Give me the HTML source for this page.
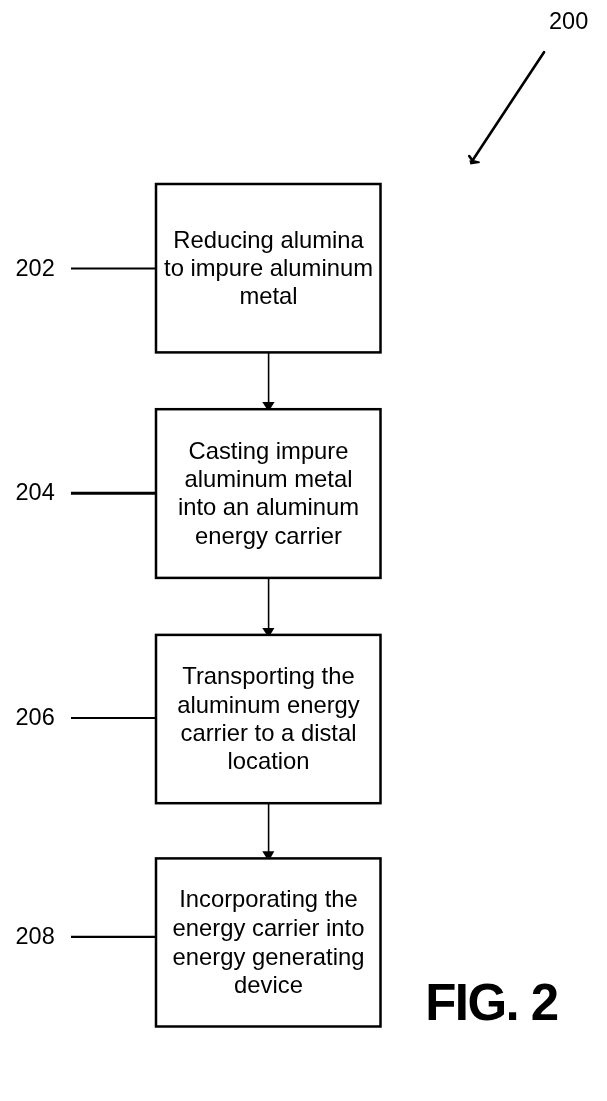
<!DOCTYPE html>
<html>
<head>
<meta charset="utf-8">
<style>
html,body{margin:0;padding:0;background:#fff;}
body{width:607px;height:1101px;overflow:hidden;}
svg{display:block;will-change:transform;}
text{font-family:"Liberation Sans",sans-serif;fill:#000;}
.t{font-size:23.8px;text-anchor:middle;}
.n{font-size:23.5px;}
.fig{font-size:51px;font-weight:bold;letter-spacing:-1.6px;}
</style>
</head>
<body>
<svg width="607" height="1101" viewBox="0 0 607 1101">
<rect x="0" y="0" width="607" height="1101" fill="#fff"/>
<g fill="none" stroke="#000">
  <rect x="156" y="184" width="224.5" height="168.4" stroke-width="2.5"/>
  <rect x="156" y="409.2" width="224.5" height="168.7" stroke-width="2.5"/>
  <rect x="156" y="634.9" width="224.5" height="168.3" stroke-width="2.5"/>
  <rect x="156" y="858.4" width="224.5" height="168.1" stroke-width="2.5"/>
  <line x1="268.6" y1="353" x2="268.6" y2="403" stroke-width="1.6"/>
  <line x1="268.6" y1="578" x2="268.6" y2="628" stroke-width="1.6"/>
  <line x1="268.6" y1="804" x2="268.6" y2="852" stroke-width="1.6"/>
  <line x1="71" y1="268.5" x2="156" y2="268.5" stroke-width="2.2"/>
  <line x1="71" y1="493.3" x2="156" y2="493.3" stroke-width="3"/>
  <line x1="71" y1="718" x2="156" y2="718" stroke-width="2.2"/>
  <line x1="71" y1="936.9" x2="156" y2="936.9" stroke-width="2.2"/>
  <line x1="544" y1="52.2" x2="471.5" y2="162" stroke-width="2.6" stroke-linecap="round"/>
</g>
<g fill="#000">
  <polygon points="262.2,402 274.6,402 270.8,408 266.2,408"/>
  <polygon points="262.2,628 274.4,628 270.8,634 266.2,634"/>
  <polygon points="262.3,851.3 274.3,851.3 270.8,857.5 266.2,857.5"/>
  <path d="M469.2,156 L472.6,160.8" fill="none" stroke="#000" stroke-width="2.6" stroke-linecap="round"/><polygon points="469.4,160.2 470.4,164.5 479.9,162.9 479.6,161.6 474.6,160.2 471.8,160.6"/>
</g>
<text class="n" x="15.5" y="275.7">202</text>
<text class="n" x="15.5" y="500.2">204</text>
<text class="n" x="15.5" y="725.2">206</text>
<text class="n" x="15.5" y="943.8">208</text>
<text class="n" x="549" y="28.5">200</text>

<text class="t" x="268.5" y="247.5">Reducing alumina</text>
<text class="t" x="268.5" y="276.1">to impure aluminum</text>
<text class="t" x="268.5" y="304.2">metal</text>

<text class="t" x="268.5" y="458.5">Casting impure</text>
<text class="t" x="268.5" y="487.2">aluminum metal</text>
<text class="t" x="268.5" y="515.3">into an aluminum</text>
<text class="t" x="268.5" y="543.7">energy carrier</text>

<text class="t" x="268.5" y="683.9">Transporting the</text>
<text class="t" x="268.5" y="712.9">aluminum energy</text>
<text class="t" x="268.5" y="741.3">carrier to a distal</text>
<text class="t" x="268.5" y="768.9">location</text>

<text class="t" x="268.5" y="907">Incorporating the</text>
<text class="t" x="268.5" y="936.1">energy carrier into</text>
<text class="t" x="268.5" y="965">energy generating</text>
<text class="t" x="268.5" y="992.9">device</text>

<text class="fig" x="425.3" y="1020.2">FIG. 2</text>
</svg>
</body>
</html>
